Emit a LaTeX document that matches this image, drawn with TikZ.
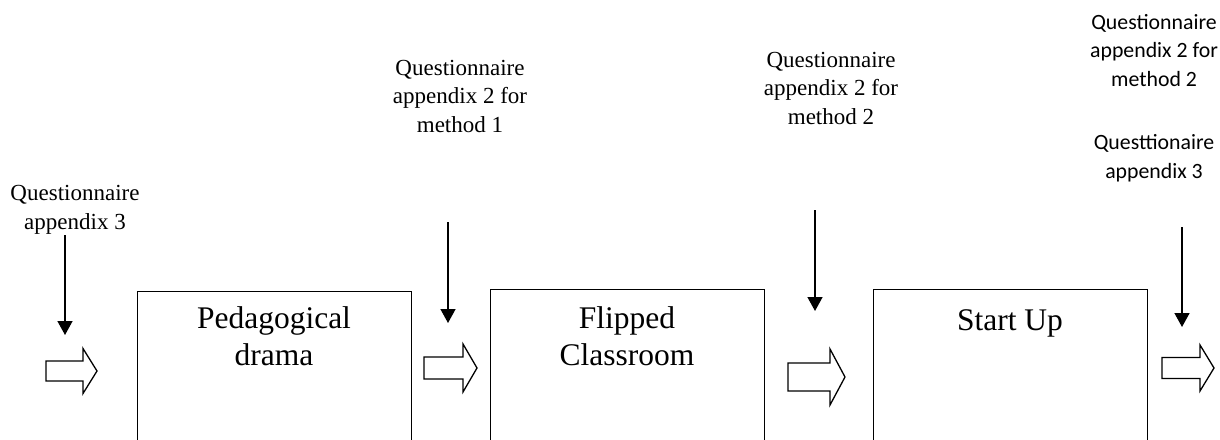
\documentclass[tikz,border=0pt]{standalone}
\usepackage{fontspec}
\setmainfont{Liberation Serif}
\newfontfamily\calib{Carlito}
\usetikzlibrary{arrows.meta}
\newcommand\blockarr[6]{% x1 x2 yc shafthalf headhalf headlen
  \draw[blockarrow] (#1,#3-#4) -- (#2-#6,#3-#4) -- (#2-#6,#3-#5) -- (#2,#3) -- (#2-#6,#3+#5) -- (#2-#6,#3+#4) -- (#1,#3+#4) -- cycle;}
\begin{document}
\begin{tikzpicture}[x=1pt,y=-1pt,
  stagebox/.style={draw, line width=1.4pt, minimum width=274pt, minimum height=170pt, anchor=north west, inner sep=0pt},
  boxtext/.style={font=\fontsize{31.5}{37}\selectfont, align=center, anchor=base, inner sep=0pt},
  qtext/.style={font=\fontsize{23}{28.5}\selectfont, align=center, anchor=base, inner sep=0pt},
  qsans/.style={font=\calib\fontsize{21.8}{28.5}\selectfont, align=center, anchor=base, inner sep=0pt},
  downarr/.style={line width=1.5pt, -{Triangle[length=14pt,width=15pt]}},
  blockarrow/.style={draw, line width=1.3pt, fill=white, line join=miter}]
\useasboundingbox (0,0) rectangle (1220,439);
\clip (0,0) rectangle (1220,439);

% stage boxes
\node[stagebox] (b1) at (137,291) {};
\node[stagebox] (b2) at (490,289) {};
\node[stagebox] (b3) at (873,289) {};
\node[boxtext] (t1) at (274,365) {Pedagogical\\drama};
\node[boxtext] (t2) at (627,365) {Flipped\\Classroom};
\node[boxtext] (t3) at (1010,330) {Start Up};

% labels
\node[qtext] (q0) at (75,229) {Questionnaire\\appendix 3};
\node[qtext] (q1) at (460,132) {Questionnaire\\appendix 2 for\\method 1};
\node[qtext] (q2) at (831,124) {Questionnaire\\appendix 2 for\\method 2};
\node[qsans] (q3) at (1154,86) {Questionnaire\\appendix 2 for\\method 2};
\node[qsans] (q4) at (1154,178) {Questtionaire\\appendix 3};

% down arrows
\coordinate (d0s) at (65,235);  \coordinate (d0e) at (65,335);
\coordinate (d1s) at (448,222); \coordinate (d1e) at (448,323);
\coordinate (d2s) at (815,210); \coordinate (d2e) at (815,311);
\coordinate (d3s) at (1182,227); \coordinate (d3e) at (1182,327);
\draw[downarr] (d0s) -- (d0e);
\draw[downarr] (d1s) -- (d1e);
\draw[downarr] (d2s) -- (d2e);
\draw[downarr] (d3s) -- (d3e);

% block arrows
\blockarr{46}{97}{371}{10}{22.5}{14}
\blockarr{424}{477}{368}{11}{24}{14}
\blockarr{788}{845}{377}{14}{28}{15}
\blockarr{1162}{1214}{368}{10.5}{23}{14}
\end{tikzpicture}
\end{document}
